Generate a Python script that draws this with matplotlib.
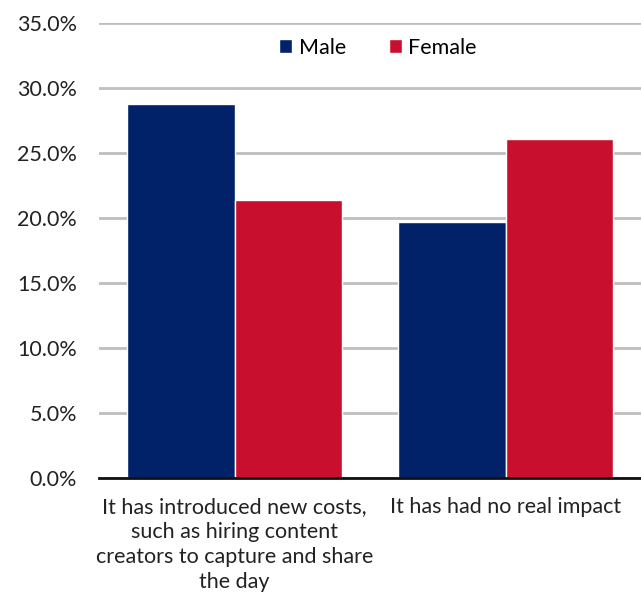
import numpy as np
import matplotlib.pyplot as plt
from matplotlib.ticker import FuncFormatter

# Dados
categorias = ['It has introduced new costs,\nsuch as hiring content\ncreators to capture and share\nthe day',
              'It has had no real impact']
male = [28.8, 19.7]
female = [21.4, 26.1]

plt.rcParams['font.family'] = ['Lato', 'DejaVu Sans']

fig = plt.figure(figsize=(6.41, 6.09), dpi=100)
ax = fig.add_axes([0.1545, 0.2156, 0.8455, 0.7461])

x = np.arange(len(categorias))
bar_width = 0.395

ax.bar(x - bar_width / 2, male, bar_width, color='#012169', edgecolor='white', linewidth=1, label='Male', zorder=3)
ax.bar(x + bar_width / 2, female, bar_width, color='#C8102E', edgecolor='white', linewidth=1, label='Female', zorder=3)

ax.set_xlim(-0.5, 1.5)
ax.set_ylim(0, 35)
ax.set_yticks(np.arange(0, 36, 5))
ax.yaxis.set_major_formatter(FuncFormatter(lambda v, p: f'{v:.1f}%'))
ax.set_xticks(x)
ax.set_xticklabels(categorias, fontsize=15.5, color='#222222', linespacing=1.3)
ax.tick_params(axis='y', labelsize=15.5, colors='#222222', length=0, pad=16)
ax.tick_params(axis='x', length=0, pad=14)

ax.grid(axis='y', color='#bfbfbf', linewidth=2, zorder=0)
for s in ['top', 'right', 'left']:
    ax.spines[s].set_visible(False)
ax.spines['bottom'].set_color('#111111')
ax.spines['bottom'].set_linewidth(2)
ax.spines['bottom'].set_zorder(4)

ax.legend(loc='center', bbox_to_anchor=(0.515, 0.946), ncol=2, frameon=False, fontsize=15.5,
          handlelength=0.6, handleheight=0.6, handletextpad=0.3, columnspacing=2.0)

plt.savefig('out.png', dpi=100)
plt.close()
